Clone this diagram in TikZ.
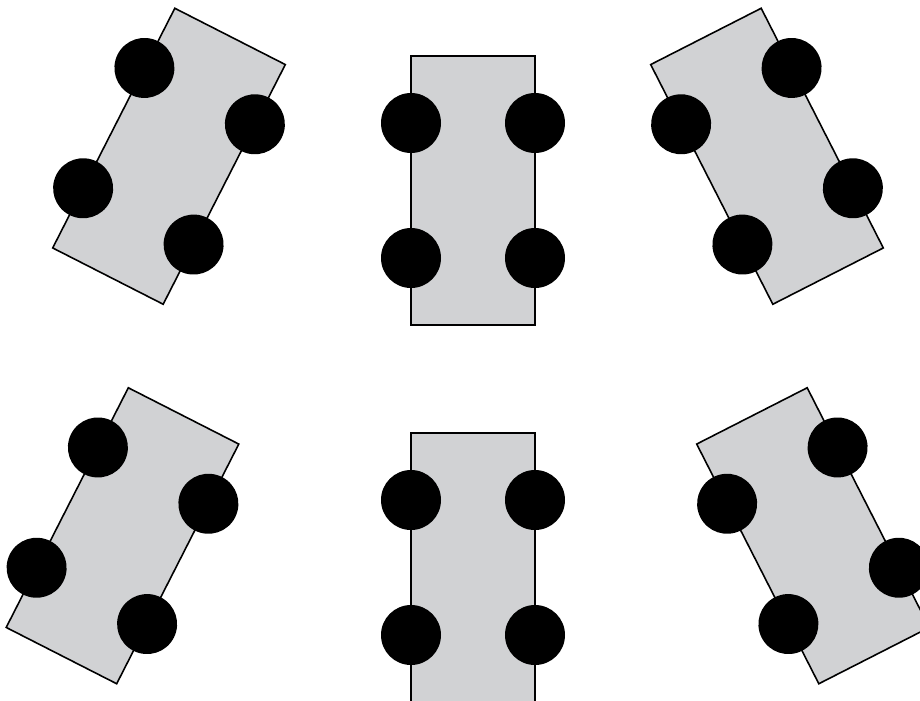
\documentclass[tikz,border=0pt]{standalone}
\usepackage{tikz}
\definecolor{bodygray}{HTML}{D1D2D4}
\tikzset{
  bodybox/.style={draw=black, line width=0.45pt, fill=bodygray},
  wheel/.style={fill=black},
  cart/.pic={
    \path[bodybox] (-0.62,-1.345) rectangle (0.62,1.345);
    \foreach \wx in {-0.62,0.62}
      \foreach \wy in {-0.675,0.675}
        \path[wheel] (\wx,\wy) circle (0.30);
  }
}

\begin{document}
\begin{tikzpicture}
  \useasboundingbox (0,0) rectangle (9.2,7);
  \clip (0,0) rectangle (9.2,7);
  % top row
  \pic[rotate=-27] at (1.69,5.4375) {cart};
  \pic at (4.73,5.095) {cart};
  \pic[rotate=27] at (7.67,5.4375) {cart};
  % bottom row
  \pic[rotate=-27] at (1.225,1.6425) {cart};
  \pic at (4.73,1.325) {cart};
  \pic[rotate=27] at (8.13,1.6425) {cart};
\end{tikzpicture}
\end{document}
